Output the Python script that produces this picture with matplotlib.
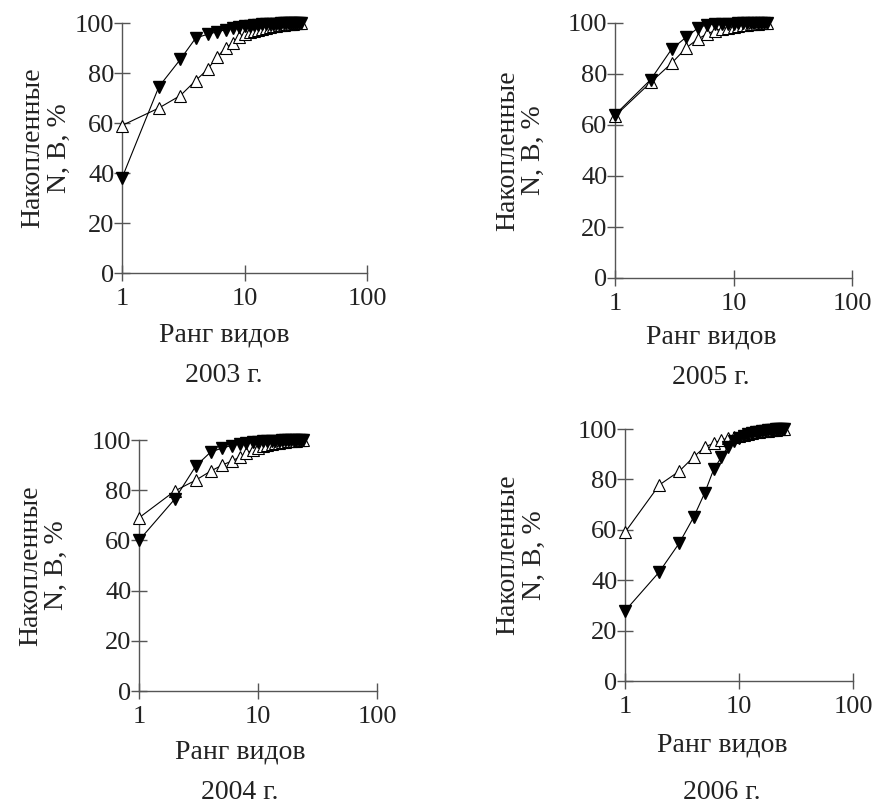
"""Cumulative abundance / biomass curves vs species rank, four years."""
import matplotlib
matplotlib.use("Agg")
import matplotlib.pyplot as plt

plt.rcParams['font.family'] = ['Liberation Serif', 'DejaVu Serif']
plt.rcParams['xtick.labelsize'] = 19
plt.rcParams['ytick.labelsize'] = 19

W, H = 873, 805

# ---- data ----
years = ["2003 г.", "2005 г.", "2004 г.", "2006 г."]

n_2003 = [38, 74.5, 85.5, 94, 95.5, 96.5, 97.3, 98, 98.4, 98.8, 99.0, 99.2,
          99.35, 99.45, 99.55, 99.62, 99.68, 99.74, 99.78, 99.82, 99.86,
          99.89, 99.92, 99.94, 99.96, 99.97, 99.98, 99.99, 100]
b_2003 = [59, 66, 71, 77, 81.5, 86.5, 90, 92, 94.5, 95.5, 96.3, 96.9, 97.4,
          97.8, 98.1, 98.4, 98.65, 98.85, 99.05, 99.2, 99.35, 99.5, 99.6,
          99.7, 99.78, 99.85, 99.9, 99.95, 100]

n_2005 = [64, 77.8, 89.7, 94.5, 98, 99.4, 99.6, 99.7, 99.75, 99.8, 99.84,
          99.87, 99.9, 99.92, 99.94, 99.96, 99.98, 99.99, 100]
b_2005 = [63.5, 76.7, 84.2, 90.3, 93.7, 95.8, 97, 97.7, 98.2, 98.6, 98.9,
          99.1, 99.3, 99.45, 99.6, 99.72, 99.83, 99.92, 100]

n_2004 = [60, 76.5, 89.6, 95.2, 96.8, 97.8, 98.4, 98.8, 99.1, 99.3, 99.45,
          99.55, 99.65, 99.72, 99.78, 99.83, 99.87, 99.9, 99.93, 99.95,
          99.97, 99.98, 99.99, 100]
b_2004 = [69, 79.7, 84, 87.6, 90, 91.6, 93.2, 94.8, 96, 96.9, 97.5, 98, 98.4,
          98.7, 98.95, 99.15, 99.3, 99.45, 99.58, 99.7, 99.8, 99.88, 99.95,
          100]

n_2006 = [27.8, 43.3, 54.8, 65, 74.6, 84, 88.8, 93, 95.3, 96.5, 97.3, 97.9,
          98.35, 98.7, 99.0, 99.2, 99.4, 99.55, 99.67, 99.77, 99.85, 99.91,
          99.95, 99.98, 100]
b_2006 = [59, 77.8, 83.3, 88.9, 92.8, 94.4, 95.6, 96.3, 96.9, 97.4, 97.8,
          98.1, 98.4, 98.65, 98.85, 99.05, 99.2, 99.35, 99.5, 99.62, 99.73,
          99.82, 99.9, 99.96, 100]

series = [(n_2003, b_2003), (n_2005, b_2005), (n_2004, b_2004),
          (n_2006, b_2006)]

# axes boxes in pixels: left, right, top, bottom
boxes = [(122, 367, 23, 273), (615, 852, 23, 278),
         (139, 377, 440, 691), (625, 853, 429, 681)]
# label placement in axes coords: xlabel x, xlabel y, year y, ylabel x
lab_pos = [(0.416, -0.248, -0.408, -0.31), (0.405, -0.231, -0.392, -0.397),
           (0.424, -0.243, -0.406, -0.40), (0.425, -0.254, -0.444, -0.456)]

axcol = "#555555"
fig = plt.figure(figsize=(W / 100, H / 100), dpi=100)

for (n_vals, b_vals), (l, r, t, b), year, lp in zip(series, boxes, years,
                                                    lab_pos):
    ax = fig.add_axes([l / W, 1 - b / H, (r - l) / W, (b - t) / H])
    ranks = list(range(1, len(n_vals) + 1))
    ax.plot(ranks, b_vals, color="black", lw=0.8, marker="^", ms=8,
            mfc="white", mec="black", mew=0.8, clip_on=False, zorder=3)
    ax.plot(ranks, n_vals, color="black", lw=0.8, marker="v", ms=8,
            mfc="black", mec="black", clip_on=False, zorder=4)
    ax.set_xscale("log")
    ax.set_xlim(1, 100)
    ax.set_ylim(0, 100)
    ax.set_xticks([1, 10, 100])
    ax.set_xticklabels(["1", "10", "100"])
    ax.set_yticks([0, 20, 40, 60, 80, 100])
    ax.minorticks_off()
    for s in ("top", "right"):
        ax.spines[s].set_visible(False)
    for s in ("left", "bottom"):
        ax.spines[s].set_color(axcol)
        ax.spines[s].set_linewidth(1.0)
    ax.tick_params(direction="inout", length=11, width=1.0, color=axcol,
                   labelcolor="#222222")
    ax.tick_params(axis="y", pad=0)
    ax.tick_params(axis="x", pad=5)
    ax.text(lp[0], lp[1], "Ранг видов", transform=ax.transAxes, ha="center",
            va="center", fontsize=20, color="#222222")
    ax.text(lp[0], lp[2], year, transform=ax.transAxes, ha="center",
            va="center", fontsize=20, color="#222222")
    ax.text(lp[3], 0.5, "Накопленные\nN, B, %", transform=ax.transAxes,
            ha="center", va="center", rotation=90, fontsize=20,
            color="#222222", linespacing=1.05)

fig.savefig("out.png", dpi=100)
